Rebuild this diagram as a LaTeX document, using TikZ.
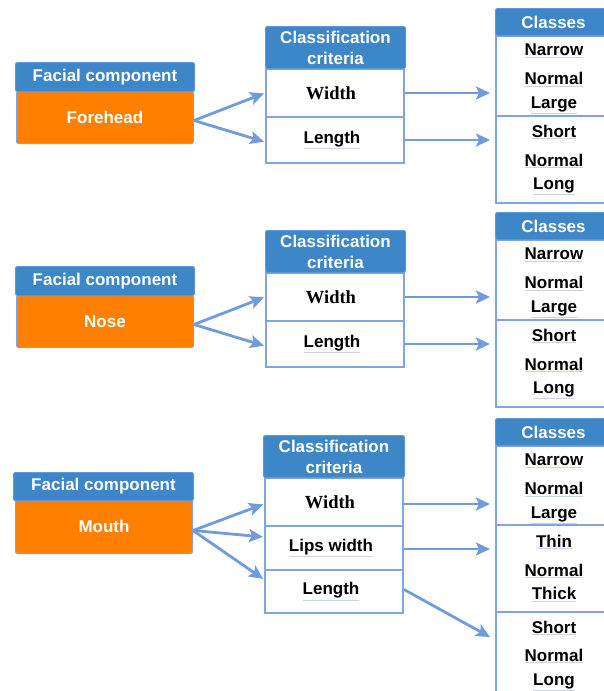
\documentclass[tikz,border=0pt]{standalone}
\usepackage{fontspec}
\setmainfont{Liberation Sans}
\newfontfamily\timesbf{Liberation Serif}
\usetikzlibrary{arrows.meta,calc}
\definecolor{hblue}{RGB}{61,134,200}
\definecolor{hedge}{RGB}{95,152,212}
\definecolor{orng}{RGB}{255,128,0}
\definecolor{lblue}{RGB}{126,166,224}
\definecolor{ablue}{RGB}{112,156,222}
\definecolor{ulblue}{RGB}{200,212,235}
\newcommand\ulw[1]{{\color{ulblue}\underline{\color{black}#1}}}
\begin{document}
\begin{tikzpicture}[x=1pt,y=-1pt,
  bigfont/.style={font=\bfseries\fontsize{17}{21}\selectfont},
  hdr/.style={draw=hedge, fill=hblue, line width=1pt, rounded corners=2pt, inner sep=0pt, anchor=north west, text=white, bigfont, align=center},
  orbox/.style={draw=lblue, fill=orng, line width=1pt, rounded corners=2pt, inner sep=0pt, anchor=north west, text=white, bigfont},
  cell/.style={draw=lblue, fill=white, line width=2pt, inner sep=0pt, anchor=north west, bigfont},
  grp/.style={draw=lblue, line width=2pt, inner sep=0pt, anchor=north west},
  cls/.style={anchor=base, bigfont, inner sep=0pt},
  arr/.style={draw=ablue, line width=2.8pt, -{Stealth[length=14pt,width=13pt,inset=3pt]}},
]
\useasboundingbox (0,0) rectangle (603,691);

% ---------- blocks 1 and 2 ----------
\foreach \d/\nm/\i in {0/Forehead/1, 204/Nose/2} {
  % facial component
  \node[orbox, minimum width=177pt, minimum height=52pt] (o\i) at (16,91+\d) {\nm};
  \node[hdr, minimum width=179pt, minimum height=29pt] (f\i) at (15,62+\d) {Facial component};
  % criteria
  \node[cell, minimum width=138pt, minimum height=48pt] (w\i) at (265,68+\d) {\hspace*{-8pt}\textnormal{\timesbf\bfseries\fontsize{18.5}{21}\selectfont Width}};
  \node[cell, minimum width=138pt, minimum height=46pt] (l\i) at (265,116+\d) {\hspace*{-6pt}\ulw{Length}};
  \node[hdr, minimum width=140pt, minimum height=42pt] (c\i) at (265,26+\d) {Classification\\criteria};
  % classes
  \node[grp, minimum width=116pt, minimum height=80pt] (ga\i) at (495,35+\d) {};
  \node[grp, minimum width=116pt, minimum height=87pt] (gb\i) at (495,115+\d) {};
  \node[hdr, minimum width=116pt, minimum height=27pt] (k\i) at (495,8+\d) {Classes};
  \node[cls] (na\i) at (554,55.5+\d) {\ulw{Narrow}};
  \node[cls] (nb\i) at (554,84.5+\d) {\ulw{Normal}};
  \node[cls] (nc\i) at (554,108.5+\d) {\ulw{Large}};
  \node[cls] (nd\i) at (554,137+\d) {\ulw{Short}};
  \node[cls] (ne\i) at (554,166+\d) {\ulw{Normal}};
  \node[cls] (nf\i) at (554,189.5+\d) {\ulw{Long}};
  % arrows
  \draw[arr, shorten >=1pt] ($(o\i.east)+(0,3)$) -- (w\i.west);
  \draw[arr, shorten >=1pt] ($(o\i.east)+(0,3)$) -- ($(l\i.west)+(0,2)$);
  \draw[arr, shorten >=5pt] (w\i.east) -- (w\i.east -| ga\i.west);
  \draw[arr, shorten >=5pt] (l\i.east) -- (l\i.east -| gb\i.west);
}

% ---------- block 3 ----------
\node[orbox, minimum width=177pt, minimum height=54pt] (o3) at (15,499) {Mouth};
\node[hdr, minimum width=180pt, minimum height=28pt] (f3) at (13,472) {Facial component};

\node[cell, minimum width=138pt, minimum height=48pt] (w3) at (264,477) {\hspace*{-8pt}\textnormal{\timesbf\bfseries\fontsize{18.5}{21}\selectfont Width}};
\node[cell, minimum width=138pt, minimum height=44pt] (p3) at (264,525) {\hspace*{-6pt}\ulw{Lips width}};
\node[cell, minimum width=138pt, minimum height=43pt] (l3) at (264,569) {\hspace*{-6pt}\ulw{Length}};
\node[hdr, minimum width=141pt, minimum height=42pt] (c3) at (263,435) {Classification\\criteria};

\node[grp, minimum width=116pt, minimum height=79pt] (ga3) at (495,445) {};
\node[grp, minimum width=116pt, minimum height=87pt] (gb3) at (495,524) {};
\node[grp, minimum width=116pt, minimum height=95pt] (gc3) at (495,611) {};
\node[hdr, minimum width=116pt, minimum height=27pt] (k3) at (495,418) {Classes};
\node[cls] (na3) at (554,465.5) {\ulw{Narrow}};
\node[cls] (nb3) at (554,494.5) {\ulw{Normal}};
\node[cls] (nc3) at (554,518.5) {\ulw{Large}};
\node[cls] (nd3) at (554,547) {\ulw{Thin}};
\node[cls] (ne3) at (554,576) {\ulw{Normal}};
\node[cls] (nf3) at (554,599.5) {\ulw{Thick}};
\node[cls] (ng3) at (554,633) {\ulw{Short}};
\node[cls] (nh3) at (554,661) {\ulw{Normal}};
\node[cls] (ni3) at (554,685) {\ulw{Long}};

\coordinate (t3) at ($(gc3.north west)+(-5,26)$);
\draw[arr, shorten >=1pt] ($(o3.east)+(0,4)$) -- ($(w3.west)+(0,2)$);
\draw[arr, shorten >=1pt] ($(o3.east)+(0,4)$) -- ($(p3.west)+(0,-11)$);
\draw[arr, shorten >=1pt] ($(o3.east)+(0,4)$) -- ($(l3.west)+(0,-12)$);
\draw[arr, shorten >=5pt] ($(w3.east)+(0,2)$) -- ($(w3.east -| ga3.west)+(0,2)$);
\draw[arr, shorten >=5pt] ($(p3.east)+(0,1)$) -- ($(p3.east -| gb3.west)+(0,1)$);
\draw[arr] ($(l3.east)+(0,-2)$) -- (t3);
\end{tikzpicture}
\end{document}
